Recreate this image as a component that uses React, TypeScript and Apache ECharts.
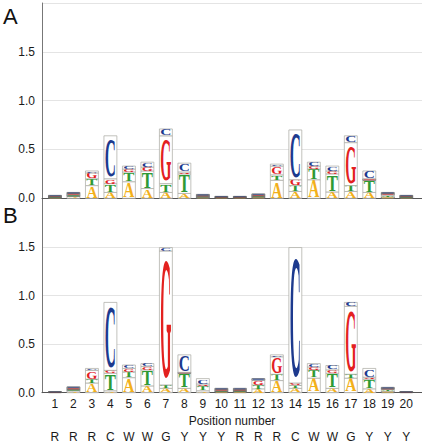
import React, { useEffect, useRef } from "react";
import * as echarts from "echarts";

// Position numbers and motif letters
const positions = [1, 2, 3, 4, 5, 6, 7, 8, 9, 10, 11, 12, 13, 14, 15, 16, 17, 18, 19, 20];
const motif = ["R", "R", "R", "C", "W", "W", "G", "Y", "Y", "Y", "R", "R", "R", "C", "W", "W", "G", "Y", "Y", "Y"];
const yTicks = [0, 0.5, 1.0, 1.5];

// Panel A: letter heights (bits), stacked A (bottom), T, G, C (top)
const aA = [0.008, 0.02, 0.13, 0.06, 0.17, 0.10, 0.06, 0.05, 0.01, 0.005, 0.005, 0.012, 0.185, 0.07, 0.19, 0.065, 0.07, 0.06, 0.015, 0.008];
const aT = [0.008, 0.015, 0.07, 0.09, 0.10, 0.18, 0.09, 0.20, 0.01, 0.005, 0.005, 0.011, 0.055, 0.06, 0.11, 0.185, 0.06, 0.125, 0.02, 0.008];
const aG = [0.007, 0.015, 0.06, 0.05, 0.03, 0.04, 0.49, 0.02, 0.01, 0.005, 0.005, 0.012, 0.09, 0.06, 0.03, 0.03, 0.44, 0.015, 0.015, 0.007];
const aC = [0.007, 0.01, 0.02, 0.44, 0.03, 0.05, 0.07, 0.09, 0.01, 0.005, 0.005, 0.01, 0.02, 0.51, 0.04, 0.05, 0.07, 0.08, 0.01, 0.007];

// Panel B
const bA = [0.0025, 0.02, 0.10, 0.02, 0.155, 0.07, 0.045, 0.045, 0.02, 0.01, 0.012, 0.04, 0.125, 0.045, 0.15, 0.045, 0.15, 0.04, 0.015, 0.0025];
const bT = [0.0025, 0.015, 0.04, 0.18, 0.06, 0.165, 0.035, 0.155, 0.05, 0.01, 0.01, 0.04, 0.065, 0.03, 0.085, 0.155, 0.04, 0.10, 0.02, 0.0025];
const bG = [0.0025, 0.015, 0.09, 0.03, 0.035, 0.035, 1.38, 0.01, 0.02, 0.015, 0.013, 0.05, 0.18, 0.025, 0.03, 0.035, 0.70, 0.02, 0.01, 0.0025];
const bC = [0.0025, 0.01, 0.02, 0.70, 0.035, 0.03, 0.035, 0.18, 0.055, 0.01, 0.01, 0.015, 0.02, 1.395, 0.035, 0.045, 0.04, 0.09, 0.01, 0.0025];

const letters = ["A", "T", "G", "C"];
const letterColors = ["#f2b01b", "#2f9a34", "#e3211f", "#1d3a8e"];
const glyphW = [0.722, 0.667, 0.778, 0.722];

function buildData(stacks: number[][]) {
  const out: number[][] = [];
  positions.forEach((p, i) => {
    let base = 0;
    stacks.forEach((arr, li) => {
      const h = arr[i];
      out.push([p, base, base + h, li]);
      base += h;
    });
  });
  return out;
}

const renderItem = (params: any, api: any) => {
  const x = api.value(0);
  const y0 = api.value(1);
  const y1 = api.value(2);
  const li = api.value(3);
  const p0 = api.coord([x - 0.35, y0]);
  const p1 = api.coord([x + 0.35, y1]);
  const w = p1[0] - p0[0];
  const h = p0[1] - p1[1];
  const cx = (p0[0] + p1[0]) / 2;
  const cy = (p0[1] + p1[1]) / 2;
  const fs = 100;
  const small = h < 1.5;
  const children: any[] = [
    {
      type: "rect",
      shape: { x: p0[0], y: p1[1], width: w, height: h },
      style: { fill: "#fff", stroke: small ? "#555" : "#a8a8a0", lineWidth: 0.7 },
    },
  ];
  if (!small) {
    children.push({
      type: "text",
      x: cx,
      y: cy,
      scaleX: (w * 0.86) / (fs * glyphW[li]),
      scaleY: (h * 0.88) / (fs * 0.676),
      style: {
        text: letters[li],
        fill: letterColors[li],
        font: `bold ${fs}px "Liberation Serif"`,
        align: "center",
        verticalAlign: "middle",
      },
    });
  } else {
    children.push({
      type: "rect",
      shape: { x: p0[0] + 1, y: p1[1], width: w - 2, height: Math.max(h, 0.6) },
      style: { fill: letterColors[li], opacity: 0.6 },
    });
  }
  return { type: "group", children };
};

export default function App() {
  const ref = useRef<HTMLDivElement>(null);
  useEffect(() => {
    if (!ref.current) return;
    const chart = echarts.init(ref.current, null, { renderer: "svg" });
    const baseX = {
      type: "value" as const,
      min: 0.3,
      max: 20.85,
      splitLine: { show: false },
      axisTick: { show: false },
      axisLine: { show: true, onZero: false, lineStyle: { color: "#555", width: 1 } },
    };
    const baseY = {
      type: "value" as const,
      min: 0,
      max: 2,
      interval: 0.5,
      axisTick: { show: false },
      axisLine: { show: true, lineStyle: { color: "#777", width: 1 } },
      splitLine: { show: true, lineStyle: { color: "#e4e4e4", width: 1 } },
      axisLabel: {
        customValues: yTicks,
        formatter: (v: number) => v.toFixed(1),
        fontSize: 12,
        color: "#1a1a1a",
        fontFamily: "Liberation Sans",
        margin: 7,
      },
    };
    chart.setOption({
      animation: false,
      backgroundColor: "#fff",
      grid: [
        { left: 42, right: 0, top: 3, height: 195.3 },
        { left: 42, right: 0, top: 198.5, height: 194.2 },
      ],
      xAxis: [
        { ...baseX, gridIndex: 0, position: "bottom", axisLabel: { show: false } },
        {
          ...baseX,
          gridIndex: 1,
          position: "bottom",
          axisLabel: {
            show: true,
            customValues: positions,
            fontSize: 12,
            color: "#1a1a1a",
            fontFamily: "Liberation Sans",
            margin: 5,
          },
          name: "Position number",
          nameLocation: "middle",
          nameGap: 22,
          nameTextStyle: { fontSize: 12, color: "#1a1a1a", fontFamily: "Liberation Sans" },
        },
        {
          ...baseX,
          gridIndex: 1,
          position: "bottom",
          offset: 34,
          axisLine: { show: false },
          axisLabel: {
            show: true,
            customValues: positions,
            formatter: (v: number) => motif[Math.round(v) - 1],
            fontSize: 12,
            color: "#1a1a1a",
            fontFamily: "Liberation Sans",
            margin: 4,
          },
        },
      ],
      yAxis: [
        { ...baseY, gridIndex: 0 },
        { ...baseY, gridIndex: 1 },
      ],
      series: [
        {
          type: "custom",
          xAxisIndex: 0,
          yAxisIndex: 0,
          renderItem,
          data: buildData([aA, aT, aG, aC]),
          clip: false,
        },
        {
          type: "custom",
          xAxisIndex: 1,
          yAxisIndex: 1,
          renderItem,
          data: buildData([bA, bT, bG, bC]),
          clip: false,
        },
      ],
      graphic: [
        {
          type: "text",
          left: 3,
          top: 5,
          style: { text: "A", font: '22px "Liberation Sans"', fill: "#111" },
        },
        {
          type: "text",
          left: 3,
          top: 204,
          style: { text: "B", font: '22px "Liberation Sans"', fill: "#111" },
        },
      ],
    });
    return () => chart.dispose();
  }, []);
  return <div ref={ref} style={{ width: 422, height: 444, position: "absolute", left: 0, top: 0 }} />;
}
